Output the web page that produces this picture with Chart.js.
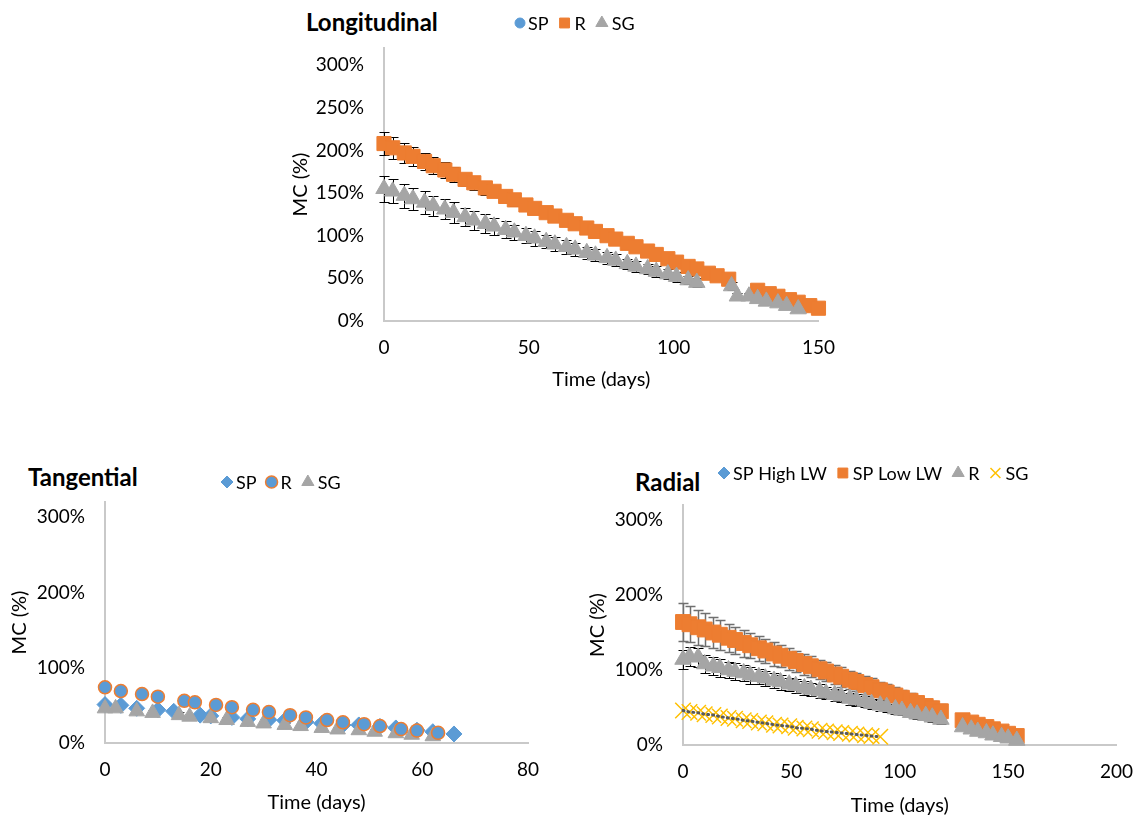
<!DOCTYPE html>
<html>
<head>
<meta charset="utf-8">
<script src="https://cdn.jsdelivr.net/npm/chart.js@4.4.1/dist/chart.umd.min.js"></script>
<style>
    body { margin: 0; background: #fff; width: 1148px; height: 818px; position: relative; overflow: hidden; font-family: Lato, sans-serif; }
    .panel { position: absolute; }
    .ttl { position: absolute; font-weight: bold; font-size: 24px; line-height: 26px; color: #000; white-space: nowrap; }
</style>
</head>
<body>
<div class="ttl" style="left:306px;top:9px">Longitudinal</div>
<div class="ttl" style="left:28px;top:464px">Tangential</div>
<div class="ttl" style="left:635px;top:469px">Radial</div>

<div class="panel" style="left:280px;top:0;width:570px;height:400px"><canvas id="longChart"></canvas></div>
<div class="panel" style="left:0;top:440px;width:560px;height:378px"><canvas id="tangChart"></canvas></div>
<div class="panel" style="left:575px;top:440px;width:573px;height:378px"><canvas id="radChart"></canvas></div>

<script>
// ---- data (days, MC %) ----
const longDaysR = [0, 3, 7, 10, 14, 17, 21, 24, 28, 31, 35, 38, 42, 45, 49, 52, 56, 59, 63, 66, 70, 73, 77, 80, 84, 87, 91, 94, 98, 101, 105, 108, 112, 115, 119, 129, 133, 136, 140, 143, 147, 150];
const longR = [208, 203, 197, 193, 187, 182, 177, 172, 166, 162, 156, 152, 146, 142, 136, 132, 127, 123, 118, 114, 109, 105, 100, 96, 91, 87, 82, 78, 73, 69, 64, 61, 56, 53, 49, 36, 32, 29, 25, 22, 18, 15];
const longRErr = [14, 13, 12, 11, 10, 10, 9, 9, 8, 8, 8, 7, 7, 7, 7, 6, 6, 6, 6, 6, 6, 5, 5, 5, 5, 5, 5, 5, 5, 5, 5, 5, 5, 5, 5, 4, 4, 4, 4, 4, 4, 4];

const longDaysSG = [0, 3, 7, 10, 14, 17, 21, 24, 28, 31, 35, 38, 42, 45, 49, 52, 56, 59, 63, 66, 70, 73, 77, 80, 84, 87, 91, 94, 98, 101, 105, 108, 120, 122, 126, 129, 132, 136, 139, 143];
const longSG = [155, 152, 147, 143, 139, 135, 131, 127, 122, 118, 114, 111, 107, 104, 100, 97, 93, 90, 87, 84, 80, 77, 74, 71, 67, 64, 61, 58, 55, 52, 48, 45, 41, 29, 29, 26, 23, 21, 18, 14];
const longSGErr = [15, 14, 14, 13, 13, 12, 12, 12, 11, 11, 11, 10, 10, 9, 9, 9, 8, 8, 8, 8, 7, 7, 7, 7, 6, 6, 6, 6, 6, 6, 5, 5, 5, 4, 4, 4, 4, 4, 4, 4];

const tangDaysSP = [0, 3, 6, 10, 13, 18, 20, 24, 27, 31, 34, 38, 41, 45, 48, 52, 55, 59, 62, 66];
const tangSP = [51, 50, 46, 44, 42, 37, 36, 34, 32, 31, 30, 28, 26, 24, 24, 22, 20, 17, 15, 12];
const tangDaysR = [0, 3, 7, 10, 15, 17, 21, 24, 28, 31, 35, 38, 42, 45, 49, 52, 56, 59, 63];
const tangR = [74, 69, 65, 61.5, 56, 54, 50.5, 47.5, 44, 41, 37, 34, 30.5, 27.5, 25, 22.5, 18.5, 16.5, 13.5];
const tangDaysSG = [0, 2, 6, 9, 14, 16, 20, 23, 27, 30, 34, 37, 41, 44, 48, 51, 55, 58, 62];
const tangSG = [46, 46, 42, 40, 37, 35, 33, 30.5, 28, 26, 24, 22.5, 20, 18, 17, 15, 13, 11, 9];
const tangSGErr = [4, 4, 4, 4, 4, 4, 4, 4, 3, 3, 3, 3, 3, 3, 3, 3, 3, 3, 3];

const radDays = [0, 3, 7, 10, 14, 17, 21, 24, 28, 31, 35, 38, 42, 45, 49, 52, 56, 59, 63, 66, 70, 73, 77, 80, 84, 87, 91, 94, 98, 101, 105, 108, 112, 115, 119, 129, 133, 136, 140, 143, 147, 150, 154];
const radSPLow = [164, 161, 157, 154, 150, 147, 143, 140, 136, 133, 129, 126, 122, 119, 115, 112, 108, 105, 101, 98, 94, 91, 87, 84, 80, 77, 73, 70, 66, 63, 59, 56, 52, 49, 45, 33, 30, 27, 24, 21, 18, 15, 12];
const radSPLowErr = [25, 24, 23, 22, 21, 20, 19, 18, 18, 17, 17, 16, 16, 15, 15, 14, 14, 14, 13, 13, 13, 13, 12, 12, 12, 12, 11, 11, 11, 11, 10, 10, 10, 10, 10, 6, 6, 6, 5, 5, 5, 5, 5];
const radR = [114, 118, 117, 108, 105, 103, 100, 98, 96, 93, 91, 89, 86, 84, 81, 79, 76, 74, 72, 69, 67, 65, 62, 60, 58, 55, 53, 51, 48, 46, 43, 41, 39, 37, 34, 24, 21, 18, 16, 13, 11, 9, 6];
const radRErr = [13, 13, 13, 12, 12, 12, 11, 11, 11, 11, 10, 10, 10, 10, 9, 9, 9, 9, 9, 8, 8, 8, 8, 8, 7, 7, 7, 7, 7, 6, 6, 6, 6, 6, 6, 4, 4, 4, 4, 4, 4, 4, 4];
const radDaysSG = [0, 3, 7, 10, 14, 17, 21, 24, 28, 31, 35, 38, 42, 45, 49, 52, 56, 59, 63, 66, 70, 73, 77, 80, 84, 87, 91];
const radSG = [46, 44, 43, 41, 40, 38, 36, 35, 33, 32, 30, 29, 27, 26, 25, 23, 22, 21, 19, 18, 17, 16, 15, 14, 13, 12, 11];

const BLUE = '#5B9BD5', ORANGE = '#ED7D31', GRAY = '#A5A5A5', YELLOW = '#FFC000';
const AXIS = '#c9c9c9';

Chart.defaults.font.family = 'Lato';
Chart.defaults.font.size = 19;
Chart.defaults.color = '#000';
Chart.defaults.animation = false;

function pts(days, vals) {
    return days.map((d, i) => ({ x: d, y: vals[i] }));
}

// vertical error bars with caps, drawn under the markers
const errorBars = {
    id: 'errorBars',
    beforeDatasetsDraw(chart) {
        const ctx = chart.ctx;
        const xs = chart.scales.x, ys = chart.scales.y;
        chart.data.datasets.forEach(ds => {
            if (!ds.errors) return;
            ctx.save();
            ctx.strokeStyle = ds.errorColor || '#000';
            ctx.lineWidth = ds.errorWidth || 1;
            ds.data.forEach((p, i) => {
                const e = ds.errors[i];
                if (!e) return;
                const px = Math.round(xs.getPixelForValue(p.x)) + 0.5;
                const t = Math.round(ys.getPixelForValue(p.y + e)) + 0.5;
                const b = Math.round(ys.getPixelForValue(p.y - e)) + 0.5;
                ctx.beginPath();
                ctx.moveTo(px, t); ctx.lineTo(px, b);
                ctx.moveTo(px - 5, t); ctx.lineTo(px + 5, t);
                ctx.moveTo(px - 5, b); ctx.lineTo(px + 5, b);
                ctx.stroke();
            });
            ctx.restore();
        });
    }
};

// legend drawn in one row at a given spot, next to the html title
const inlineLegend = {
    id: 'inlineLegend',
    afterDraw(chart, args, opts) {
        const ctx = chart.ctx;
        let x = opts.x;
        const y = opts.y;
        ctx.save();
        ctx.font = '18px Lato';
        ctx.textBaseline = 'middle';
        chart.data.datasets.forEach(ds => {
            if (ds.noLegend) return;
            const r = ds.legendRadius || 6;
            ctx.fillStyle = ds.pointBackgroundColor;
            ctx.strokeStyle = ds.pointBorderColor;
            ctx.lineWidth = ds.pointBorderWidth || 1;
            Chart.helpers.drawPoint(ctx, { pointStyle: ds.pointStyle, rotation: 0, radius: r, borderWidth: ds.pointBorderWidth || 1 }, x + r, y);
            x += 2 * r + 3;
            ctx.fillStyle = '#000';
            ctx.fillText(ds.label, x, y + 1);
            x += ctx.measureText(ds.label).width + 9;
        });
        ctx.restore();
    }
};

function series(label, data, style, radius, fill, stroke, extra) {
    return Object.assign({
        label: label,
        data: data,
        pointStyle: style,
        pointRadius: radius,
        pointBackgroundColor: fill,
        pointBorderColor: stroke,
        pointBorderWidth: 1,
        pointHoverRadius: radius,
        showLine: false,
        clip: false
    }, extra || {});
}

function buildChart(id, g, datasets) {
    return new Chart(document.getElementById(id), {
        type: 'scatter',
        data: { datasets: datasets },
        options: {
            responsive: true,
            maintainAspectRatio: false,
            events: [],
            layout: { padding: { top: g.padTop, right: g.padRight, left: 0, bottom: 0 } },
            plugins: {
                legend: { display: false },
                tooltip: { enabled: false },
                inlineLegend: { x: g.legendX, y: g.legendY }
            },
            scales: {
                x: {
                    type: 'linear',
                    min: 0,
                    max: g.xMax,
                    grid: { display: false, drawTicks: false },
                    border: { color: AXIS, width: 2 },
                    ticks: { stepSize: g.xStep, padding: g.xTickPad, includeBounds: false },
                    title: { display: true, text: 'Time (days)', font: { size: 20 }, padding: { top: 0, bottom: g.xTitlePad } },
                    afterFit: s => { s.height = g.xH; }
                },
                y: {
                    type: 'linear',
                    min: 0,
                    max: 320,
                    grid: { display: false, drawTicks: false },
                    border: { color: AXIS, width: 2 },
                    ticks: { stepSize: g.yStep, padding: 20, includeBounds: false, callback: v => v + '%' },
                    afterBuildTicks: s => { s.ticks = s.ticks.filter(t => t.value % g.yStep === 0); },
                    title: { display: true, text: 'MC (%)', font: { size: 20 }, padding: { top: g.yTitlePad, bottom: 0 } },
                    afterFit: s => { s.width = g.yW; }
                }
            }
        },
        plugins: [errorBars, inlineLegend]
    });
}

buildChart('longChart', {
    padTop: 48, padRight: 27, yW: 104, xH: 79, yTitlePad: 9, xTitlePad: 8, xTickPad: 15,
    xMax: 150, xStep: 50, yStep: 50, legendX: 235, legendY: 23
}, [
    series('SP', [], 'circle', 6, BLUE, BLUE, { legendRadius: 5, order: 3 }),
    series('R', pts(longDaysR, longR), 'rect', 10, ORANGE, ORANGE, { legendRadius: 7, order: 2, errors: longRErr, errorColor: '#000' }),
    series('SG', pts(longDaysSG, longSG), 'triangle', 9.5, GRAY, GRAY, { legendRadius: 7, order: 1, errors: longSGErr, errorColor: '#000' })
]);

buildChart('tangChart', {
    padTop: 62, padRight: 32, yW: 105, xH: 75, yTitlePad: 8, xTitlePad: 3, xTickPad: 15,
    xMax: 80, xStep: 20, yStep: 100, legendX: 221, legendY: 42
}, [
    series('SP', pts(tangDaysSP, tangSP), 'rectRot', 8, BLUE, BLUE, { legendRadius: 6, order: 3 }),
    series('R', pts(tangDaysR, tangR), 'circle', 6.5, BLUE, ORANGE, { legendRadius: 6, order: 1, pointBorderWidth: 1.5 }),
    series('SG', pts(tangDaysSG, tangSG), 'triangle', 9, GRAY, GRAY, { legendRadius: 7, order: 2, errors: tangSGErr, errorColor: '#404040' })
]);

buildChart('radChart', {
    padTop: 65, padRight: 22, yW: 108, xH: 73, yTitlePad: 11, xTitlePad: 0, xTickPad: 15,
    xMax: 200, xStep: 50, yStep: 100, legendX: 143, legendY: 33
}, [
    series('SP High LW', [], 'rectRot', 8, BLUE, BLUE, { legendRadius: 6, order: 5 }),
    series('SP Low LW', pts(radDays, radSPLow), 'rect', 10.5, ORANGE, ORANGE, { legendRadius: 7, order: 4, errors: radSPLowErr, errorColor: '#6f6f6f', errorWidth: 1.5 }),
    series('R', pts(radDays, radR), 'triangle', 9.5, GRAY, GRAY, { legendRadius: 7, order: 3, errors: radRErr, errorColor: '#000' }),
    series('SG', pts(radDaysSG, radSG), 'crossRot', 11, YELLOW, YELLOW, { legendRadius: 7, order: 2, pointBorderWidth: 1.5 }),
    {
        label: 'SG trend', data: pts(radDaysSG, radSG), showLine: true, pointRadius: 0, noLegend: true,
        borderColor: '#595959', borderWidth: 3, borderDash: [1, 4], borderCapStyle: 'round', order: 1, clip: false
    }
]);
</script>
</body>
</html>
